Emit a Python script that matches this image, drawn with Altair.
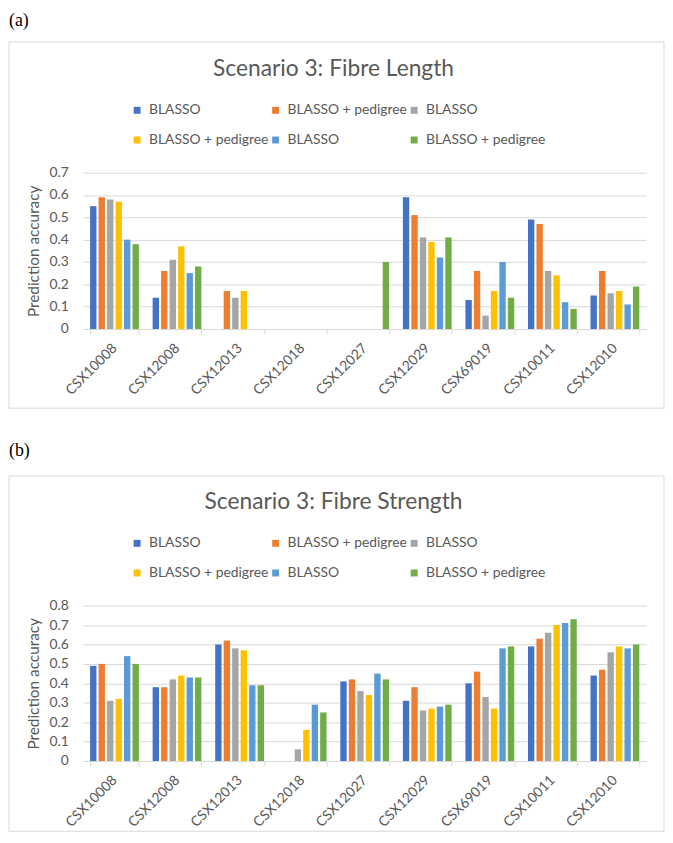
import altair as alt
import pandas as pd

cultivars = ["CSX10008", "CSX12008", "CSX12013", "CSX12018", "CSX12027",
             "CSX12029", "CSX69019", "CSX10011", "CSX12010"]
series_keys = ["S1", "S2", "S3", "S4", "S5", "S6"]
series_labels = ["BLASSO", "BLASSO + pedigree", "BLASSO",
                 "BLASSO + pedigree", "BLASSO", "BLASSO + pedigree"]
colors = ["#4472C4", "#ED7D31", "#A5A5A5", "#FFC000", "#5B9BD5", "#70AD47"]

# (a) Fibre Length
length_s1 = [0.55, 0.14, 0.00, 0.00, 0.00, 0.59, 0.13, 0.49, 0.15]
length_s2 = [0.59, 0.26, 0.17, 0.00, 0.00, 0.51, 0.26, 0.47, 0.26]
length_s3 = [0.58, 0.31, 0.14, 0.00, 0.00, 0.41, 0.06, 0.26, 0.16]
length_s4 = [0.57, 0.37, 0.17, 0.00, 0.00, 0.39, 0.17, 0.24, 0.17]
length_s5 = [0.40, 0.25, 0.00, 0.00, 0.00, 0.32, 0.30, 0.12, 0.11]
length_s6 = [0.38, 0.28, 0.00, 0.00, 0.30, 0.41, 0.14, 0.09, 0.19]

# (b) Fibre Strength
strength_s1 = [0.49, 0.38, 0.60, 0.00, 0.41, 0.31, 0.40, 0.59, 0.44]
strength_s2 = [0.50, 0.38, 0.62, 0.00, 0.42, 0.38, 0.46, 0.63, 0.47]
strength_s3 = [0.31, 0.42, 0.58, 0.06, 0.36, 0.26, 0.33, 0.66, 0.56]
strength_s4 = [0.32, 0.44, 0.57, 0.16, 0.34, 0.27, 0.27, 0.70, 0.59]
strength_s5 = [0.54, 0.43, 0.39, 0.29, 0.45, 0.28, 0.58, 0.71, 0.58]
strength_s6 = [0.50, 0.43, 0.39, 0.25, 0.42, 0.29, 0.59, 0.73, 0.60]

length_ticks = [0, 0.1, 0.2, 0.3, 0.4, 0.5, 0.6, 0.7]
strength_ticks = [0, 0.1, 0.2, 0.3, 0.4, 0.5, 0.6, 0.7, 0.8]

FONT = "Lato"
TXT = "#595959"
GRID = "#d9d9d9"
W = 569


def long_df(series_lists):
    rows = []
    for key, vals in zip(series_keys, series_lists):
        for c, v in zip(cultivars, vals):
            rows.append({"cultivar": c, "series": key, "value": v})
    return pd.DataFrame(rows)


label_expr = ("[" + ",".join("'%s'" % s for s in series_labels) + "][indexof(["
              + ",".join("'%s'" % k for k in series_keys) + "], datum.value)]")


def panel(df, title, tag, ticks, H, frame_top, frame_bottom, tag_y):
    one = pd.DataFrame({"a": [0]})
    bars = alt.Chart(df).mark_bar().encode(
        x=alt.X("cultivar:N", sort=cultivars, title=None,
                scale=alt.Scale(paddingInner=0.22, paddingOuter=0.11),
                axis=alt.Axis(labelAngle=-45, labelAlign="right", labelBaseline="middle",
                              tickBand="extent", ticks=True, tickSize=5, tickColor=GRID,
                              domainColor=GRID, labelColor=TXT, labelFont=FONT,
                              labelFontSize=14, labelPadding=12, grid=False)),
        xOffset=alt.XOffset("series:N", sort=series_keys,
                            scale=alt.Scale(paddingInner=0.25, paddingOuter=0)),
        y=alt.Y("value:Q", scale=alt.Scale(domain=[0, ticks[-1]], nice=False),
                title="Prediction accuracy",
                axis=alt.Axis(values=ticks, format=".1~f", domain=False, ticks=False,
                              gridColor=GRID, labelColor=TXT, labelFont=FONT,
                              labelFontSize=14, labelPadding=15, titleFont=FONT,
                              titleFontSize=15.5, titleFontWeight="normal", titleColor=TXT,
                              titleX=-50, titleY=H / 2, titleAlign="center",
                              titleBaseline="middle", titleAngle=270)),
        color=alt.Color("series:N", scale=alt.Scale(domain=series_keys, range=colors),
                        legend=alt.Legend(orient="none", legendX=47.5, legendY=-70,
                                          direction="horizontal", columns=3, title=None,
                                          symbolType="square", symbolSize=49,
                                          symbolStrokeWidth=0, labelFont=FONT,
                                          labelFontSize=14, labelColor=TXT,
                                          labelExpr=label_expr, labelLimit=0,
                                          gridAlign="all", columnPadding=-2.5,
                                          rowPadding=16, padding=0, labelOffset=5)),
    )
    frame = alt.Chart(one).mark_rect(fillOpacity=0, stroke=GRID, strokeWidth=1).encode(
        x=alt.value(-75), x2=alt.value(587),
        y=alt.value(frame_top), y2=alt.value(frame_bottom))
    tag_text = alt.Chart(one).mark_text(align="left", baseline="top", font="Liberation Serif",
                                        fontSize=18, color="black").encode(
        x=alt.value(-75), y=alt.value(tag_y), text=alt.value(tag))
    title_text = alt.Chart(one).mark_text(align="center", baseline="alphabetic", font=FONT,
                                          fontSize=23, color=TXT).encode(
        x=alt.value(253), y=alt.value(-98), text=alt.value(title))
    return alt.layer(bars, frame, tag_text, title_text).properties(width=W, height=H)


top = panel(long_df([length_s1, length_s2, length_s3, length_s4, length_s5, length_s6]),
            "Scenario 3: Fibre Length", "(a)", length_ticks, 158, -132, 238, -162)
bottom = panel(long_df([strength_s1, strength_s2, strength_s3, strength_s4, strength_s5, strength_s6]),
               "Scenario 3: Fibre Strength", "(b)", strength_ticks, 157, -131, 228, -165)

chart = alt.vconcat(top, bottom, spacing=33.6).resolve_scale(
    color="independent", y="independent", x="independent"
).resolve_legend(color="independent").configure_view(strokeWidth=0).properties(
    padding=0, background="white")

chart.save("out.html", embed_options={"renderer": "svg", "actions": False})
